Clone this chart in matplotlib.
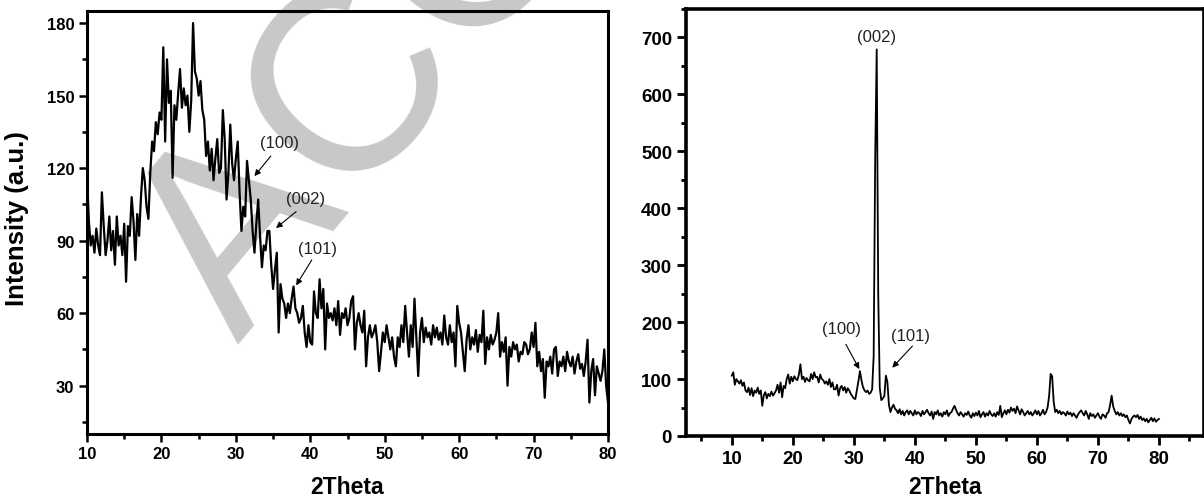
import numpy as np
import matplotlib
matplotlib.use("Agg")
import matplotlib.pyplot as plt
from matplotlib.ticker import MultipleLocator

plt.rcParams['font.family'] = ['Liberation Sans', 'DejaVu Sans']

# ---------------- data ----------------
two_theta_left = np.arange(10, 80.001, 0.25)
intensity_left = [
    117, 98, 88, 92,    85, 95, 88, 84,    110, 96, 84, 90,   100, 86, 94, 80,
    100, 88, 92, 84,    97, 73, 96, 92,    108, 98, 82, 101,  92, 108, 120, 115,
    104, 99, 118, 131,  127, 139, 134, 143, 140, 170, 131, 165, 147, 152, 116, 146,
    140, 151, 161, 145, 153, 146, 150, 135, 148, 180, 160, 157, 150, 156, 144, 140,
    125, 131, 119, 128, 115, 124, 132, 118, 120, 144, 132, 107, 118, 138, 122, 115,
    124, 131, 110, 94,  104, 100, 123, 115, 107, 94, 85, 97,   107, 92, 79, 88,
    86, 94, 94, 80,     70, 78, 85, 52,    72, 66, 64, 58,     64, 60, 66, 71,
    62, 60, 56, 58,     63, 52, 46, 55,    48, 47, 69, 60,     58, 74, 62, 70,
    45, 64, 58, 60,     57, 62, 55, 65,    51, 60, 58, 62,     55, 58, 65, 67,
    45, 56, 60, 55,     52, 61, 38, 50,    55, 50, 52, 55,     48, 36, 44, 52,
    48, 55, 50, 45,     50, 42, 38, 50,    46, 55, 48, 63,     52, 42, 55, 46,
    66, 50, 34, 52,     58, 48, 54, 50,    52, 47, 55, 50,     54, 49, 52, 47,
    59, 50, 47, 55,     48, 52, 38, 63,    56, 52, 44, 36,     49, 55, 45, 50,
    47, 53, 44, 51,     48, 61, 39, 50,    45, 51, 47, 49,     52, 60, 42, 48,
    44, 50, 30, 46,     42, 48, 45, 47,    40, 44, 43, 48,     47, 43, 45, 52,
    46, 56, 38, 44,     36, 41, 25, 40,    38, 42, 35, 45,     46, 34, 40, 38,
    42, 36, 44, 40,     38, 42, 35, 40,    43, 37, 39, 34,     40, 49, 23, 36,
    41, 26, 38, 35,     32, 36, 45, 30,    23,
]

two_theta_right = np.arange(10, 80.001, 0.25)
intensity_right = [
    106, 112, 90, 100,  96, 92, 98, 88,    94, 80, 77, 85,     72, 84, 70, 80,
    76, 85, 74, 80,     53, 72, 77, 66,    74, 70, 78, 71,     75, 80, 90, 76,
    94, 68, 88, 84,     100, 108, 92, 104, 96, 105, 100, 98,   108, 126, 100, 104,
    95, 102, 98, 96,    109, 100, 112, 103, 104, 94, 108, 100, 98, 92, 96, 90,
    100, 86, 94, 82,    82, 90, 71, 84,    88, 80, 86, 76,     84, 80, 74, 70,
    66, 65, 80, 96,     114, 98, 86, 80,   77, 80, 74, 76,     82, 140, 486, 679,
    250, 85, 63, 66,    70, 106, 95, 55,   42, 50, 55, 48,     45, 40, 47, 38,
    44, 36, 42, 45,     38, 44, 40, 36,    45, 38, 42, 40,     35, 44, 38, 42,
    46, 40, 36, 43,     30, 42, 38, 45,    36, 40, 34, 42,     38, 45, 35, 40,
    42, 48, 53, 46,     40, 36, 42, 38,    34, 40, 37, 43,     36, 32, 40, 35,
    41, 36, 44, 33,     38, 42, 34, 40,    36, 44, 38, 35,     40, 34, 42, 37,
    53, 33, 40, 45,     38, 46, 41, 50,    44, 48, 40, 52,     45, 38, 47, 42,
    36, 40, 44, 38,     42, 36, 40, 45,    38, 44, 36, 40,     46, 38, 42, 50,
    70, 109, 105, 60,   42, 46, 40, 44,    38, 42, 40, 36,     43, 38, 41, 35,
    40, 36, 32, 38,     42, 45, 40, 36,    44, 38, 30, 40,     35, 38, 32, 36,
    40, 34, 30, 38,     36, 32, 40, 42,    55, 71, 52, 44,     38, 42, 36, 40,
    35, 38, 33, 36,     28, 22, 30, 34,    36, 33, 37, 30,     34, 28, 31, 26,
    30, 24, 28, 32,     26, 31, 25, 28,    30,
]

left_peak_labels = ['(100)', '(002)', '(101)']
right_peak_labels = ['(100)', '(002)', '(101)']

# ---------------- figure ----------------
W, H = 1204, 502
fig = plt.figure(figsize=(W / 100, H / 100), dpi=100)

ax1 = fig.add_axes([87 / W, (H - 435) / H, 521 / W, 423 / H])
ax2 = fig.add_axes([686 / W, (H - 437) / H, 517.5 / W, 427 / H])
for ax in (ax1, ax2):
    ax.set_facecolor('none')

# watermark
fig.text(238 / W, 1 - 345 / H, 'ACC', rotation=50, rotation_mode='anchor',
         ha='left', va='baseline', fontsize=188, color='#c8c8c8',
         family='Liberation Sans', zorder=-1)

# ----- left panel -----
ax1.plot(two_theta_left, intensity_left, color='black', lw=1.6)
ax1.set_xlim(10, 80)
ax1.set_ylim(10, 185)
ax1.xaxis.set_major_locator(MultipleLocator(10))
ax1.xaxis.set_minor_locator(MultipleLocator(5))
ax1.yaxis.set_minor_locator(MultipleLocator(15))
ax1.yaxis.set_ticks([30, 60, 90, 120, 150, 180])
ax1.tick_params(which='major', direction='out', length=6, width=1.8, pad=3,
                labelsize=12)
ax1.tick_params(which='minor', direction='out', length=3.5, width=1.8)
for lab in ax1.get_xticklabels() + ax1.get_yticklabels():
    lab.set_fontweight('bold')
for sp in ax1.spines.values():
    sp.set_linewidth(2.2)
ax1.set_xlabel('2Theta', fontsize=16.5, fontweight='bold')
ax1.xaxis.set_label_coords(0.5, -(476 - 435) / 423)
ax1.set_ylabel('Intensity (a.u.)', fontsize=18.5, fontweight='bold')
ax1.yaxis.set_label_coords(-(87 - 29) / 521, 0.512)

ann_kw = dict(fontsize=12, color='#222222', ha='center', va='center')
arr_kw = dict(arrowstyle='-|>', color='black', lw=0.8, mutation_scale=9,
              shrinkA=0, shrinkB=0)
left_text_pos = [(35.9, 130.8), (39.3, 107.5), (41.0, 86.6)]
left_arrows = [((34.7, 125), (32.5, 116.7)), ((38.1, 102), (35.4, 95.2)),
               ((40.2, 82), (38.1, 71.5))]
for lab, tp, (tail, head) in zip(left_peak_labels, left_text_pos, left_arrows):
    ax1.text(tp[0], tp[1], lab, **ann_kw)
    ax1.annotate('', xy=head, xytext=tail, arrowprops=arr_kw)

# ----- right panel -----
ax2.plot(two_theta_right, intensity_right, color='black', lw=1.3)
ax2.set_xlim(2.5, 87.3)
ax2.set_ylim(0, 750)
ax2.xaxis.set_major_locator(MultipleLocator(10))
ax2.xaxis.set_minor_locator(MultipleLocator(5))
ax2.yaxis.set_major_locator(MultipleLocator(100))
ax2.yaxis.set_minor_locator(MultipleLocator(50))
ax2.tick_params(which='major', direction='out', length=6.5, width=2, pad=3.5,
                labelsize=13.5)
ax2.tick_params(which='minor', direction='out', length=3.5, width=2)
for lab in ax2.get_xticklabels() + ax2.get_yticklabels():
    lab.set_fontweight('bold')
for sp in ax2.spines.values():
    sp.set_linewidth(2.6)
ax2.set_xlabel('2Theta', fontsize=16.5, fontweight='bold')
ax2.xaxis.set_label_coords(0.5, -(476 - 437) / 427)

right_text_pos = [(27.9, 188), (33.8, 702), (39.3, 176)]
right_arrows = [((28.7, 161), (30.9, 117.5)), None, ((39.6, 158), (36.3, 120))]
for lab, tp, arr in zip(right_peak_labels, right_text_pos, right_arrows):
    ax2.text(tp[0], tp[1], lab, **ann_kw)
    if arr is not None:
        ax2.annotate('', xy=arr[1], xytext=arr[0], arrowprops=arr_kw)

fig.savefig('out.png', dpi=100)
